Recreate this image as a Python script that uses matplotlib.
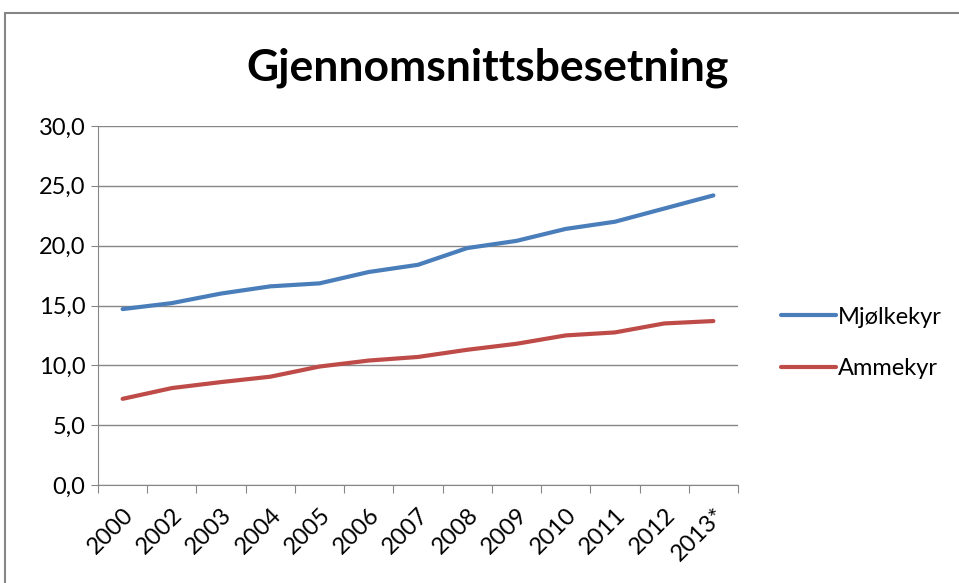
import matplotlib.pyplot as plt
from matplotlib.patches import Rectangle

plt.rcParams['font.family'] = ['Lato', 'DejaVu Sans']

# data
years = ['2000', '2002', '2003', '2004', '2005', '2006', '2007',
         '2008', '2009', '2010', '2011', '2012', '2013*']
mjolkekyr = [14.7, 15.2, 16.0, 16.6, 16.85, 17.8, 18.4, 19.8, 20.4, 21.4, 22.0, 23.1, 24.2]
ammekyr = [7.2, 8.1, 8.6, 9.05, 9.9, 10.4, 10.7, 11.3, 11.8, 12.5, 12.75, 13.5, 13.7]
yticks = [0, 5, 10, 15, 20, 25, 30]

fig = plt.figure(figsize=(9.59, 5.83), dpi=100)

# outer chart border
fig.patches.append(Rectangle((5 / 959, -0.01), 1.05, (583 - 13) / 583 + 0.01,
                             transform=fig.transFigure, fill=False,
                             edgecolor='#868686', linewidth=1.5))

ax = fig.add_axes([98 / 959, 98 / 583, 640 / 959, 359 / 583])

x = list(range(len(years)))
ax.plot(x, mjolkekyr, color='#4A7EBB', linewidth=3, label='Mjølkekyr',
        solid_capstyle='round')
ax.plot(x, ammekyr, color='#BE4B48', linewidth=3, label='Ammekyr',
        solid_capstyle='round')

ax.set_xlim(-0.5, len(years) - 0.5)
ax.set_ylim(0, 30)
ax.set_yticks(yticks)
ax.set_yticklabels([f'{v:.1f}'.replace('.', ',') for v in yticks], fontsize=17)

ax.set_xticks([i - 0.5 for i in range(len(years) + 1)])
ax.set_xticklabels([])
ax.set_xticks(x, minor=True)
ax.set_xticklabels(years, minor=True, rotation=45, ha='right',
                   rotation_mode='anchor', fontsize=17)
ax.tick_params(axis='x', which='minor', length=0, pad=14)
ax.tick_params(axis='x', which='major', length=6, color='#868686')
ax.tick_params(axis='y', length=5, color='#868686', pad=4)

ax.grid(axis='y', color='#868686', linewidth=1)
ax.set_axisbelow(True)
for s in ['top', 'right']:
    ax.spines[s].set_visible(False)
for s in ['left', 'bottom']:
    ax.spines[s].set_color('#868686')

fig.text(488 / 959, 1 - 68 / 583, 'Gjennomsnittsbesetning', fontsize=32,
         fontweight='bold', ha='center', va='center')

fig.legend(loc='center left', bbox_to_anchor=(760 / 959, 1 - 343 / 583),
           frameon=False, fontsize=17, handlelength=2.3, handletextpad=0.1,
           labelspacing=1.3)

fig.savefig('out.png', dpi=100)
